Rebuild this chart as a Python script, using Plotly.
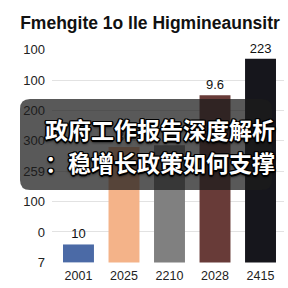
import plotly.graph_objects as go

# ---- data ----
categories = ["2001", "2025", "2210", "2028", "2415"]
values = [0.59, 3.8, 3.85, 5.5, 6.7]          # bar heights in grid units
bar_labels = ["10", "30", "", "9.6", "223"]
bar_colors = ["#4b6aa6", "#f4b389", "#808080", "#683b38", "#16161c"]
ytick_vals = [0, 1, 2, 3, 4, 5, 6, 7]
ytick_text = ["7", "0", "100", "259", "300", "200", "100", "100"]
title_text = "Fmehgite 1o lle Higmineaunsitr"
overlay_lines = ["政府工作报告深度解析", "：稳增长政策如何支撑"]

W, H = 288, 288
L, R, T, B = 52, 4, 49, 25
PW, PH = W - L - R, H - T - B

def px(x):
    return (x - L) / PW

def py(y):
    return (H - B - y) / PH

fig = go.Figure()
fig.add_trace(go.Bar(
    x=categories, y=values, marker=dict(color=bar_colors, line=dict(width=0)),
    text=bar_labels, textposition="outside", cliponaxis=False,
    textfont=dict(size=13, color="#111", family="Liberation Sans"),
))

# rounded overlay box
x0, x1, y0, y1, r = 20, 272, 99, 190, 10
path = (f"M {px(x0+r)},{py(y0)} L {px(x1-r)},{py(y0)} Q {px(x1)},{py(y0)} {px(x1)},{py(y0+r)} "
        f"L {px(x1)},{py(y1-r)} Q {px(x1)},{py(y1)} {px(x1-r)},{py(y1)} "
        f"L {px(x0+r)},{py(y1)} Q {px(x0)},{py(y1)} {px(x0)},{py(y1-r)} "
        f"L {px(x0)},{py(y0+r)} Q {px(x0)},{py(y0)} {px(x0+r)},{py(y0)} Z")
fig.add_shape(type="path", path=path, xref="paper", yref="paper",
              fillcolor="rgba(28,28,28,0.73)", line=dict(width=0), layer="above")

outline = ("-1px -1px 0 #000, 1px -1px 0 #000, -1px 1px 0 #000, 1px 1px 0 #000, "
           "0 -1.5px 0 #000, 0 1.5px 0 #000, -1.5px 0 0 #000, 1.5px 0 0 #000, 0 2px 3px #000")
for txt, yc in zip(overlay_lines, [129, 162]):
    fig.add_annotation(text=txt, xref="paper", yref="paper", x=px(160), y=py(yc),
                       xanchor="center", yanchor="middle", showarrow=False,
                       font=dict(size=23, color="white", family="Noto Sans CJK SC",
                                 weight="bold", shadow=outline))

fig.update_layout(
    width=W, height=H, margin=dict(l=L, r=R, t=T, b=B),
    paper_bgcolor="white", plot_bgcolor="white",
    showlegend=False, bargap=0.32,
    title=dict(text=f"<b>{title_text}</b>", x=150 / W, y=1 - 23 / H,
               xanchor="center", yanchor="middle", xref="container", yref="container",
               font=dict(size=17.5, color="#111", family="Liberation Sans")),
    xaxis=dict(range=[-0.582, 4.516], showgrid=False, showline=False, ticks="",
               ticklabelstandoff=3,
               tickfont=dict(size=12.5, color="#222", family="Liberation Sans")),
    yaxis=dict(range=[-0.02, 7.02], tickvals=ytick_vals, ticktext=ytick_text,
               showgrid=True, gridcolor="#e2e2e2", zeroline=False, showline=False,
               ticks="", ticklabelstandoff=6,
               tickfont=dict(size=13, color="#222", family="Liberation Sans")),
)

fig.write_html("out.html")
